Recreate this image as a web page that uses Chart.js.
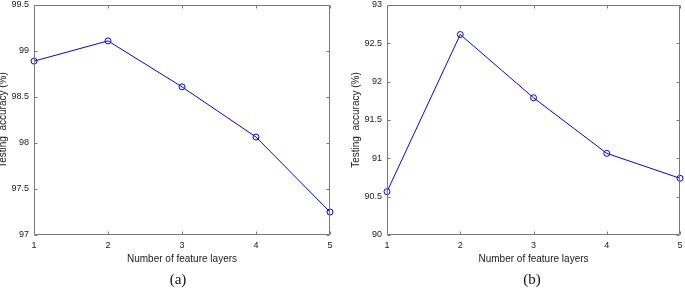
<!DOCTYPE html>
<html>
<head>
<meta charset="utf-8">
<script src="https://cdn.jsdelivr.net/npm/chart.js@4"></script>
<style>
  html, body { margin: 0; padding: 0; background: #fff; }
  body { width: 685px; height: 288px; position: relative; overflow: hidden; }
  .wrap { position: absolute; top: 0; height: 288px; }
  .cap { position: absolute; top: 270px; width: 60px; text-align: center;
         font-family: "Liberation Serif", "Times New Roman", serif; font-size: 15px; color: #111; line-height: 18px; }
</style>
</head>
<body>
<div class="wrap" style="left:0;width:340px;"><canvas id="ca"></canvas></div>
<div class="wrap" style="left:340px;width:345px;"><canvas id="cb"></canvas></div>
<div class="cap" style="left:148px;">(a)</div>
<div class="cap" style="left:502px;">(b)</div>
<script>
const layers = ['1', '2', '3', '4', '5'];
const accuracyA = [98.89, 99.11, 98.61, 98.065, 97.25];
const accuracyB = [90.565, 92.615, 91.79, 91.065, 90.74];
const yRangeA = [97, 99.5];
const yRangeB = [90, 93];
const yStep = 0.5;
const xTitle = 'Number of feature layers';
const yTitle = 'Testing  accuracy (%)';

const AXIS_COLOR = '#7a7a7a';
const TEXT_COLOR = '#1a1a1a';

const boxPlugin = {
  id: 'matlabBox',
  afterDraw(chart) {
    const { ctx, chartArea: a, scales } = chart;
    const L = Math.round(a.left) + 0.5, R = Math.round(a.right) - 0.5;
    const T = Math.round(a.top) + 0.5, B = Math.round(a.bottom) - 0.5;
    ctx.save();
    ctx.strokeStyle = AXIS_COLOR;
    ctx.lineWidth = 1;
    ctx.beginPath();
    ctx.rect(L, T, R - L, B - T);
    const tl = 3;
    scales.y.ticks.forEach(t => {
      const p = Math.round(scales.y.getPixelForValue(t.value)) + 0.5;
      ctx.moveTo(L, p); ctx.lineTo(L + tl, p);
      ctx.moveTo(R, p); ctx.lineTo(R - tl, p);
    });
    scales.x.ticks.forEach((t, i) => {
      const p = Math.round(scales.x.getPixelForTick(i)) + 0.5;
      ctx.moveTo(p, B); ctx.lineTo(p, B - tl);
      ctx.moveTo(p, T); ctx.lineTo(p, T + tl);
    });
    ctx.stroke();
    ctx.restore();
  }
};

function makeChart(id, values, yRange, yAxisWidth, padRight, titleOffset) {
  return new Chart(document.getElementById(id), {
    type: 'line',
    data: {
      labels: layers,
      datasets: [{
        data: values,
        borderColor: '#0000ff',
        borderWidth: 1,
        backgroundColor: 'rgba(0,0,0,0)',
        pointRadius: 3,
        pointBorderWidth: 1,
        pointBorderColor: '#0000ff',
        pointBackgroundColor: 'rgba(0,0,0,0)',
        pointStyle: 'circle',
        tension: 0,
        clip: false
      }]
    },
    options: {
      responsive: true,
      maintainAspectRatio: false,
      animation: false,
      events: [],
      layout: { padding: { left: 0, right: padRight, top: 3, bottom: 0 } },
      plugins: { legend: { display: false }, tooltip: { enabled: false }, title: { display: false } },
      scales: {
        x: {
          type: 'category',
          offset: false,
          grid: { display: false, drawTicks: false },
          border: { display: false },
          ticks: { color: TEXT_COLOR, font: { family: 'Liberation Sans, Arial, sans-serif', size: 9 }, padding: 5, maxRotation: 0, autoSkip: false },
          title: { display: true, text: xTitle, color: TEXT_COLOR,
                   font: { family: 'Liberation Sans, Arial, sans-serif', size: 10, lineHeight: 1 },
                   padding: { top: 0, bottom: 24 } },
          afterFit(s) { s.height = 53; s.paddingLeft = 0; s.paddingRight = 0; }
        },
        y: {
          min: yRange[0], max: yRange[1],
          grid: { display: false, drawTicks: false },
          border: { display: false },
          ticks: { stepSize: yStep, color: TEXT_COLOR, font: { family: 'Liberation Sans, Arial, sans-serif', size: 9 }, padding: 5,
                   callback: v => String(Math.round(v * 10) / 10) },
          title: { display: true, text: yTitle, color: TEXT_COLOR,
                   font: { family: 'Liberation Sans, Arial, sans-serif', size: 10, lineHeight: 1 },
                   padding: { top: titleOffset, bottom: 0 } },
          afterFit(s) { s.width = yAxisWidth; s.paddingTop = 0; s.paddingBottom = 0; }
        }
      }
    },
    plugins: [boxPlugin]
  });
}

makeChart('ca', accuracyA, yRangeA, 34, 10, -1.5);
makeChart('cb', accuracyB, yRangeB, 47, 3, 10.8);
</script>
</body>
</html>
